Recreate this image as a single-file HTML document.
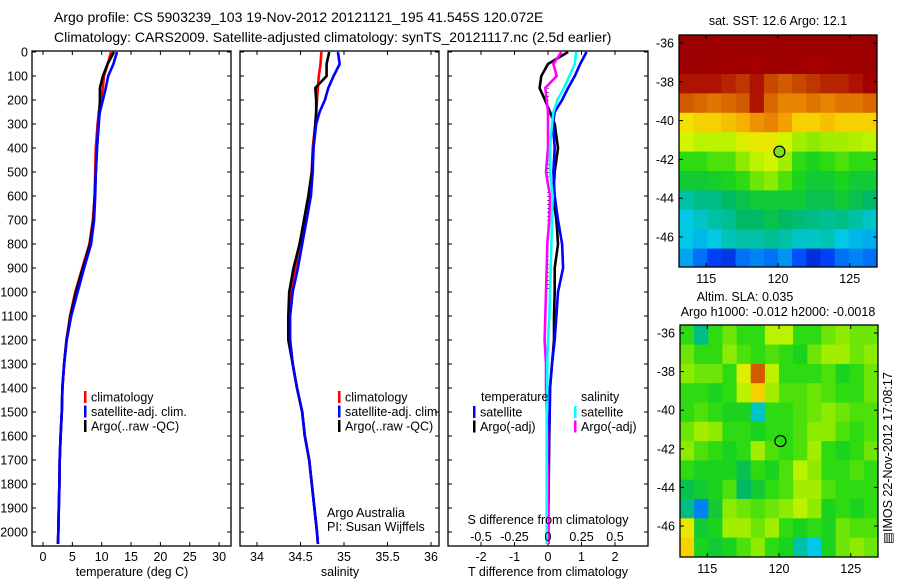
<!DOCTYPE html>
<html><head><meta charset="utf-8"><style>
body{margin:0;background:#fff;}
svg{display:block;font-family:"Liberation Sans",sans-serif;}
text{font-size:12.5px;fill:#000;}
</style></head><body>
<svg id="c" width="900" height="580" viewBox="0 0 900 580"></svg>
<script>
const depths=[0,50,100,150,200,250,300,400,500,600,700,800,900,1000,1100,1200,1300,1400,1500,1600,1700,1800,1900,2000,2050];
const tempClim=[11.6,11.0,10.4,10.2,9.8,9.5,9.3,9.0,8.9,8.8,8.5,7.9,6.7,5.5,4.6,4.0,3.6,3.3,3.2,3.0,2.85,2.8,2.7,2.6,2.55];
const tempSat=[12.6,12.0,11.1,10.7,10.2,9.7,9.4,9.2,9.0,8.9,8.7,8.2,7.0,5.9,4.8,4.05,3.6,3.3,3.2,3.0,2.85,2.8,2.7,2.6,2.55];
const tempArgo=[12.1,11.0,10.2,9.7,9.7,9.6,9.5,9.2,9.0,8.8,8.6,8.0,6.8,5.6,4.7,4.0,3.6,3.3,3.2,3.0,2.85,2.8,2.7,2.6,2.55];
const salClim=[34.74,34.73,34.71,34.70,34.69,34.68,34.67,34.64,34.63,34.61,34.55,34.49,34.44,34.39,34.37,34.38,34.41,34.46,34.52,34.55,34.60,34.63,34.66,34.69,34.70];
const salSat=[34.93,34.95,34.88,34.82,34.78,34.72,34.68,34.65,34.64,34.62,34.57,34.52,34.47,34.41,34.38,34.38,34.41,34.46,34.52,34.55,34.60,34.63,34.66,34.69,34.70];
const salArgo=[34.83,34.80,34.80,34.67,34.68,34.68,34.67,34.65,34.63,34.59,34.54,34.49,34.42,34.37,34.36,34.36,34.41,34.46,34.52,34.55,34.60,34.63,34.66,34.69,34.70];
const tDiffSat=[1.15,0.96,0.8,0.6,0.42,0.2,0.15,0.2,0.16,0.2,0.3,0.42,0.45,0.3,0.25,0.2,0.12,0.06,0.05,0.03,0.02,0.02,0.01,0.01,0.01];
const tDiffArgo=[0.6,0,-0.2,-0.25,-0.09,0.06,0.2,0.3,0.2,0.15,0.25,0.3,0.2,0.2,0.18,0.18,0.12,0.06,0.05,0.04,0.03,0.02,0.01,0.01,0.01];
const sDiffSat=[0.21,0.2,0.16,0.12,0.07,0.04,0.03,0.015,0.015,0.035,0.03,0.025,0.02,0.015,0.01,0,-0.005,-0.005,-0.01,-0.01,-0.01,-0.01,-0.01,-0.01,-0.01];
const sDiffArgo=[0.1,0.04,0.065,-0.02,-0.01,0,0,0,-0.015,0.015,0.01,-0.005,-0.01,-0.015,-0.02,-0.025,-0.015,-0.015,-0.01,-0.005,-0.005,0,0,0,0];
const depthTicks=[0,100,200,300,400,500,600,700,800,900,1000,1100,1200,1300,1400,1500,1600,1700,1800,1900,2000];
const tempTicks=[0,5,10,15,20,25,30];
const salTicks=[34,34.5,35,35.5,36];
const salTickLabels=["34","34.5","35","35.5","36"];
const tdTicks=[-2,-1,0,1,2];
const sdTicks=[-0.5,-0.25,0,0.25,0.5];
const sdTickLabels=["-0.5","-0.25","0","0.25","0.5"];
const lonTicks=[115,120,125];
const latTicks=[-36,-38,-40,-42,-44,-46];
const sstGrid=[
[0.95,0.95,0.95,0.95,0.95,0.95,0.95,0.95,0.95,0.95,0.95,0.95,0.95,0.95],
[0.95,0.95,0.94,0.93,0.93,0.92,0.94,0.94,0.93,0.92,0.93,0.94,0.93,0.95],
[0.9,0.9,0.9,0.88,0.86,0.9,0.84,0.82,0.84,0.86,0.88,0.88,0.9,0.92],
[0.82,0.8,0.78,0.8,0.82,0.9,0.8,0.76,0.76,0.78,0.76,0.78,0.78,0.8],
[0.64,0.66,0.66,0.68,0.7,0.74,0.76,0.72,0.66,0.66,0.68,0.66,0.66,0.66],
[0.58,0.56,0.56,0.56,0.6,0.62,0.62,0.58,0.54,0.52,0.54,0.54,0.55,0.56],
[0.46,0.46,0.48,0.48,0.52,0.56,0.58,0.54,0.46,0.44,0.46,0.48,0.46,0.46],
[0.42,0.42,0.43,0.44,0.46,0.5,0.52,0.48,0.44,0.42,0.42,0.44,0.42,0.42],
[0.34,0.36,0.36,0.38,0.4,0.42,0.42,0.42,0.42,0.4,0.4,0.42,0.4,0.38],
[0.3,0.32,0.34,0.35,0.38,0.38,0.4,0.38,0.37,0.36,0.35,0.36,0.34,0.32],
[0.3,0.28,0.3,0.33,0.34,0.34,0.35,0.34,0.32,0.32,0.33,0.3,0.28,0.27],
[0.26,0.2,0.14,0.12,0.2,0.22,0.2,0.24,0.16,0.1,0.14,0.2,0.22,0.2]];
const slaGrid=[
[0.46,0.36,0.46,0.5,0.46,0.46,0.56,0.56,0.46,0.46,0.5,0.52,0.5,0.5],
[0.5,0.46,0.46,0.52,0.48,0.46,0.48,0.46,0.44,0.5,0.54,0.54,0.5,0.52],
[0.52,0.5,0.5,0.46,0.6,0.82,0.56,0.46,0.46,0.46,0.48,0.44,0.46,0.5],
[0.46,0.46,0.44,0.46,0.56,0.66,0.54,0.48,0.48,0.5,0.48,0.46,0.46,0.5],
[0.46,0.48,0.46,0.44,0.44,0.32,0.46,0.46,0.48,0.5,0.52,0.5,0.48,0.48],
[0.5,0.54,0.52,0.46,0.46,0.44,0.46,0.46,0.48,0.52,0.52,0.48,0.46,0.48],
[0.52,0.48,0.46,0.44,0.46,0.54,0.48,0.46,0.48,0.54,0.46,0.44,0.46,0.5],
[0.46,0.44,0.44,0.44,0.4,0.46,0.44,0.48,0.56,0.52,0.46,0.46,0.48,0.46],
[0.4,0.42,0.44,0.48,0.38,0.42,0.46,0.48,0.54,0.54,0.48,0.46,0.46,0.46],
[0.36,0.22,0.42,0.52,0.5,0.48,0.5,0.52,0.56,0.52,0.44,0.46,0.44,0.46],
[0.62,0.42,0.44,0.54,0.54,0.5,0.54,0.46,0.44,0.46,0.44,0.5,0.48,0.48],
[0.66,0.44,0.42,0.44,0.48,0.52,0.46,0.44,0.34,0.3,0.44,0.5,0.52,0.5]];
const argoPos=[120.1,-41.6];

const S=document.getElementById('c');
const NS='http://www.w3.org/2000/svg';
function el(tag,attrs,parent){const e=document.createElementNS(NS,tag);for(const k in attrs)e.setAttribute(k,attrs[k]);(parent||S).appendChild(e);return e;}
function txt(x,y,s,anchor,name,extra){const t=el('text',Object.assign({x:x,y:y,'text-anchor':anchor||'start'},extra||{}));t.textContent=s;return t;}

const Y0=51,Y1=546;
const yD=d=>52+d*0.24;
const xT=t=>43+t*5.87;
const xS=s=>257+(s-34)*87;
const xTD=t=>548+t*33.5;
const xSD=s=>548+s*134;

txt(54,22,"Argo profile: CS 5903239_103 19-Nov-2012 20121121_195 41.545S 120.072E","start","title-line-1",{style:"font-size:14px"});
txt(54,42,"Climatology: CARS2009. Satellite-adjusted climatology: synTS_20121117.nc (2.5d earlier)","start","title-line-2",{style:"font-size:14px"});

function panel(name,x0,x1){
  const g=el('g',{});
  const r=el('rect',{x:x0,y:Y0,width:x1-x0,height:Y1-Y0,fill:'#fff',stroke:'#000','stroke-width':1.3},g);
  
  depthTicks.forEach(d=>{el('line',{x1:x0,x2:x0+4,y1:yD(d),y2:yD(d),stroke:'#000'},g);el('line',{x1:x1-4,x2:x1,y1:yD(d),y2:yD(d),stroke:'#000'},g);});
  const cp=el('clipPath',{id:'clip-'+name},g);el('rect',{x:x0,y:Y0,width:x1-x0,height:Y1-Y0},cp);
  return g;
}
function line(g,name,xs,xf,color,clip,w){
  const pts=[];for(let i=0;i<depths.length;i++){const y0=yD(depths[i]);const x=xf(xs[i]);pts.push(x.toFixed(1)+','+y0.toFixed(1));}
  const p=el('polyline',{points:pts.join(' '),fill:'none',stroke:color,'stroke-width':w||2.6,'clip-path':'url(#clip-'+clip+')'},g);
  
}
function legend(g,x,y,items,pre){
  items.forEach((it,i)=>{const yy=y+i*14.5;el('rect',{x:x,y:yy-6,width:2.5,height:12,fill:it[0]},g);const t=txt(x+7,yy+4.5,it[1],'start',pre+'-legend-'+i);g.appendChild(t);});
}

const g1=panel('temperature-panel',32,231);
depthTicks.forEach(d=>{txt(28,yD(d)+4.5,String(d),'end','depth-tick-label');});
tempTicks.forEach(t=>{const x=xT(t);el('line',{x1:x,x2:x,y1:Y1-4,y2:Y1,stroke:'#000'},g1);el('line',{x1:x,x2:x,y1:Y0,y2:Y0+4,stroke:'#000'},g1);txt(x,561,String(t),'middle','temp-tick-label');});
line(g1,'temp-climatology-line',tempClim,xT,'#f00','temperature-panel');
line(g1,'temp-argo-line',tempArgo,xT,'#000','temperature-panel');
line(g1,'temp-satellite-line',tempSat,xT,'#00f','temperature-panel');
legend(g1,84,397,[['#f00','climatology'],['#00f','satellite-adj. clim.'],['#000','Argo(..raw -QC)']],'temp');
txt(132,576,"temperature (deg C)","middle","x-axis-title-temperature");

const g2=panel('salinity-panel',240,439);
salTicks.forEach((s,i)=>{const x=xS(s);el('line',{x1:x,x2:x,y1:Y1-4,y2:Y1,stroke:'#000'},g2);el('line',{x1:x,x2:x,y1:Y0,y2:Y0+4,stroke:'#000'},g2);txt(x,561,salTickLabels[i],'middle','sal-tick-label');});
line(g2,'sal-climatology-line',salClim,xS,'#f00','salinity-panel');
line(g2,'sal-argo-line',salArgo,xS,'#000','salinity-panel');
line(g2,'sal-satellite-line',salSat,xS,'#00f','salinity-panel');
legend(g2,338,397,[['#f00','climatology'],['#00f','satellite-adj. clim.'],['#000','Argo(..raw -QC)']],'sal');
txt(327,517,"Argo Australia","start","credit-argo-australia");
txt(327,531,"PI: Susan Wijffels","start","credit-pi");
txt(340,576,"salinity","middle","x-axis-title-salinity");

const g3=panel('difference-panel',448,648);
tdTicks.forEach(t=>{const x=xTD(t);el('line',{x1:x,x2:x,y1:Y1-4,y2:Y1,stroke:'#000'},g3);el('line',{x1:x,x2:x,y1:Y0,y2:Y0+4,stroke:'#000'},g3);txt(x,561,String(t),'middle','tdiff-tick-label');});
sdTicks.forEach((s,i)=>{txt(xSD(s),541,sdTickLabels[i],'middle','sdiff-tick-label');});
el('line',{x1:xTD(0),x2:xTD(0),y1:yD(150),y2:yD(1000),stroke:'#000','stroke-dasharray':'1,3'},g3);
line(g3,'tdiff-argo-line',tDiffArgo,xTD,'#000','difference-panel');
line(g3,'tdiff-satellite-line',tDiffSat,xTD,'#00f','difference-panel');
line(g3,'sdiff-argo-line',sDiffArgo,xSD,'#f0f','difference-panel');
line(g3,'sdiff-satellite-line',sDiffSat,xSD,'#0ff','difference-panel');
txt(481,401,"temperature","start","legend-temperature-header");
txt(581,401,"salinity","start","legend-salinity-header");
legend(g3,473,412,[['#00f','satellite'],['#000','Argo(-adj)']],'tdiff');
legend(g3,574,412,[['#0ff','satellite'],['#f0f','Argo(-adj)']],'sdiff');
txt(548,524,"S difference from climatology","middle","sdiff-axis-title");
txt(548,576,"T difference from climatology","middle","x-axis-title-tdiff");

const stops=[[0,[0,0,140]],[0.15,[0,70,255]],[0.3,[0,200,230]],[0.38,[0,185,100]],[0.45,[30,215,20]],[0.52,[140,235,0]],[0.58,[210,245,0]],[0.64,[245,225,0]],[0.72,[245,160,0]],[0.82,[210,90,0]],[0.92,[165,0,0]],[1,[140,0,0]]];
function jet(v){for(let i=1;i<stops.length;i++){if(v<=stops[i][0]){const a=stops[i-1],b=stops[i];const f=(v-a[0])/(b[0]-a[0]);const c=a[1].map((q,k)=>Math.round(q+(b[1][k]-q)*f));return 'rgb('+c.join(',')+')';}}return 'rgb(140,0,0)';}

function map(name,grid,x0,x1,yTop,yBot,lat36y,degY,marker){
  const g=el('g',{});
  const lonX=l=>x0+(l-113.1)*(x1-x0)/13.8;
  const latY=la=>lat36y+(-36-la)*degY;
  const cp=el('clipPath',{id:'clip-'+name},g);el('rect',{x:x0,y:yTop,width:x1-x0,height:yBot-yTop},cp);
  const cg=el('g',{'clip-path':'url(#clip-'+name+')'},g);
  const nr=grid.length,nc=grid[0].length;
  for(let r=0;r<nr;r++)for(let c=0;c<nc;c++){
    const lon0=113.1+c*13.8/nc, la0=-35.6-r*12/nr;
    const xa=lonX(lon0),xb=lonX(lon0+13.8/nc),ya=latY(la0),yb=latY(la0-12/nr);
    const cell=el('rect',{x:xa.toFixed(1),y:ya.toFixed(1),width:(xb-xa+0.6).toFixed(1),height:(yb-ya+0.6).toFixed(1),fill:jet(grid[r][c])},cg);
    
  }
  el('rect',{x:x0,y:yTop,width:x1-x0,height:yBot-yTop,fill:'none',stroke:'#000','stroke-width':1.3},g);
  lonTicks.forEach(l=>{const x=lonX(l);el('line',{x1:x,x2:x,y1:yTop,y2:yTop+4,stroke:'#000'},g);el('line',{x1:x,x2:x,y1:yBot-4,y2:yBot,stroke:'#000'},g);txt(x,yBot+16,String(l),'middle',name+'-lon-label');});
  latTicks.forEach(la=>{const y=latY(la);el('line',{x1:x0,x2:x0+4,y1:y,y2:y,stroke:'#000'},g);el('line',{x1:x1-4,x2:x1,y1:y,y2:y,stroke:'#000'},g);txt(x0-5,y+4.5,String(la),'end',name+'-lat-label');});
  const m=el('circle',{cx:lonX(argoPos[0]),cy:latY(argoPos[1]),r:5.5,fill:marker,stroke:'#000','stroke-width':1.2},g);
  
}
map('sst-map',sstGrid,679,877,35,267,43,19.4,'#80e020');
map('sla-map',slaGrid,680,878,325,557,333,19.3,'none');
txt(778,25,"sat. SST: 12.6 Argo: 12.1","middle","sst-map-title");
txt(745,301,"Altim. SLA: 0.035","middle","sla-map-title");
txt(778,316,"Argo h1000: -0.012 h2000: -0.0018","middle","sla-map-subtitle");
txt(0,0,"\u25A4IMOS 22-Nov-2012 17:08:17","middle","timestamp-label",{transform:"translate(892,458) rotate(-90)"});
</script>
</body></html>
